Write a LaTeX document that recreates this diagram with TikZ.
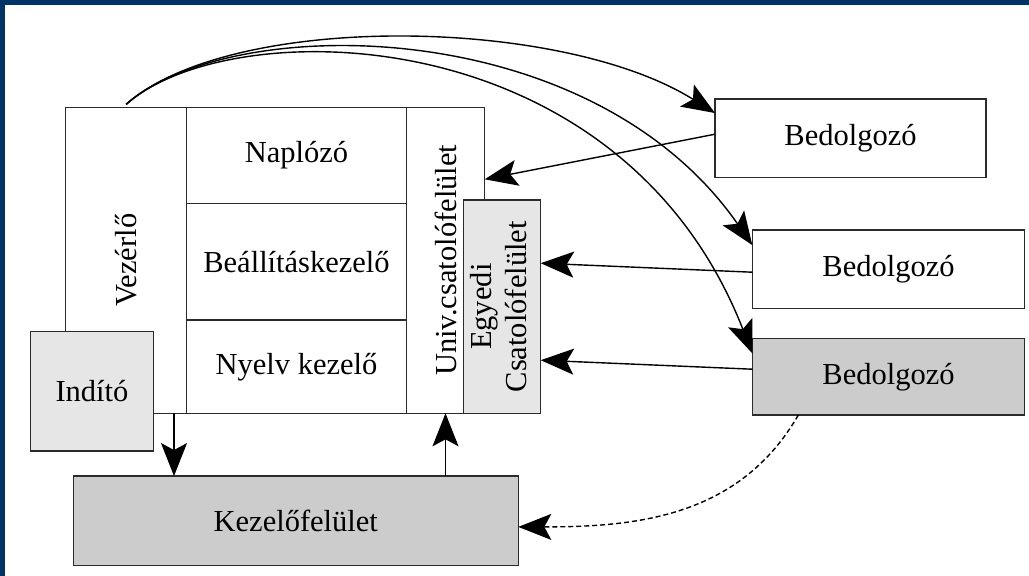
\documentclass[tikz,border=0pt]{standalone}
\usepackage{fontspec}
\setmainfont{Liberation Serif}
\usepackage{graphicx}
\usetikzlibrary{arrows.meta}
\definecolor{navy}{HTML}{003366}
\definecolor{lg}{HTML}{E6E6E6}
\definecolor{mg}{HTML}{CCCCCC}
\definecolor{edge}{HTML}{2B2B2B}
\begin{document}
\begin{tikzpicture}[x=1pt,y=-1pt,
  box/.style={draw=edge, line width=1.4pt, inner sep=0pt, outer sep=0pt,
    font=\fontsize{30.5}{35}\selectfont, align=center},
  arr/.style={draw=black, line width=1.4pt, -{Stealth[length=33pt,width=26pt,inset=7pt]}}
]
\fill[navy] (0,0) rectangle (1029,576);
\fill[white] (5,5) rectangle (1029,576);
\useasboundingbox (0,0) rectangle (1029,576);

\node[box, minimum width=121pt, minimum height=306pt] (vez) at (126.2,260.3) {\rotatebox{90}{Vezérlő}};
\node[box, minimum width=219.6pt, minimum height=96pt] (nap) at (296.5,155.3) {Naplózó};
\node[box, minimum width=219.6pt, minimum height=116.7pt] (bea) at (296.5,261.7) {Beállításkezelő};
\node[box, minimum width=219.6pt, minimum height=93.3pt] (nye) at (296.5,366.7) {Nyelv kezelő};
\node[box, minimum width=78.4pt, minimum height=306pt] (uni) at (445.5,260.3) {\rotatebox{90}{Univ.csatolófelület}};
\node[box, fill=lg, minimum width=77.4pt, minimum height=213.3pt] (egy) at (502,306.7)
  {\rotatebox{90}{\begin{tabular}{@{}c@{}}Egyedi\\Csatolófelület\end{tabular}}};
\node[box, fill=lg, minimum width=122.6pt, minimum height=119.7pt] (ind) at (92,391.2) {Indító};
\node[box, fill=mg, minimum width=445pt, minimum height=89.7pt] (kez) at (295.8,520.9) {Kezelőfelület};
\node[box, fill=white, minimum width=271pt, minimum height=78.3pt] (bed1) at (850.5,138.2) {Bedolgozó};
\node[box, fill=white, minimum width=272.4pt, minimum height=78.3pt] (bed2) at (888.5,269.2) {Bedolgozó};
\node[box, fill=mg, minimum width=272.4pt, minimum height=76.7pt] (bed3) at (888.5,376.7) {Bedolgozó};

% curved arrows from Vezérlő
\draw[arr] ([yshift=3pt]vez.north) .. controls (230,12) and (560,16) .. ([yshift=-14pt]bed1.north west);
\draw[arr] ([yshift=3pt]vez.north) .. controls (230,12) and (590,12) .. ([yshift=-15pt]bed2.north west);
\draw[arr] ([yshift=3pt]vez.north) .. controls (230,12) and (620,15) .. ([yshift=-15pt]bed3.north west);

% straight arrows from Bedolgozó boxes
\draw[arr] ([yshift=4pt]bed1.west) -- ([yshift=81pt]uni.east);
\draw[arr] ([yshift=-3pt]bed2.west) -- ([yshift=43.5pt]egy.east);
\draw[arr] ([yshift=7.5pt]bed3.west) -- ([yshift=-53.5pt]egy.east);

% vertical arrows
\draw[arr] ([xshift=-12.7pt]vez.south east) -- ([xshift=-12.7pt]vez.south east |- kez.north);
\draw[arr] (uni.south |- kez.north) -- (uni.south);

% dashed arrow
\draw[arr, dash pattern=on 5pt off 3pt] ([xshift=46pt]bed3.south west) to[out=-120, in=0] ([yshift=-6pt]kez.east);
\end{tikzpicture}
\end{document}
